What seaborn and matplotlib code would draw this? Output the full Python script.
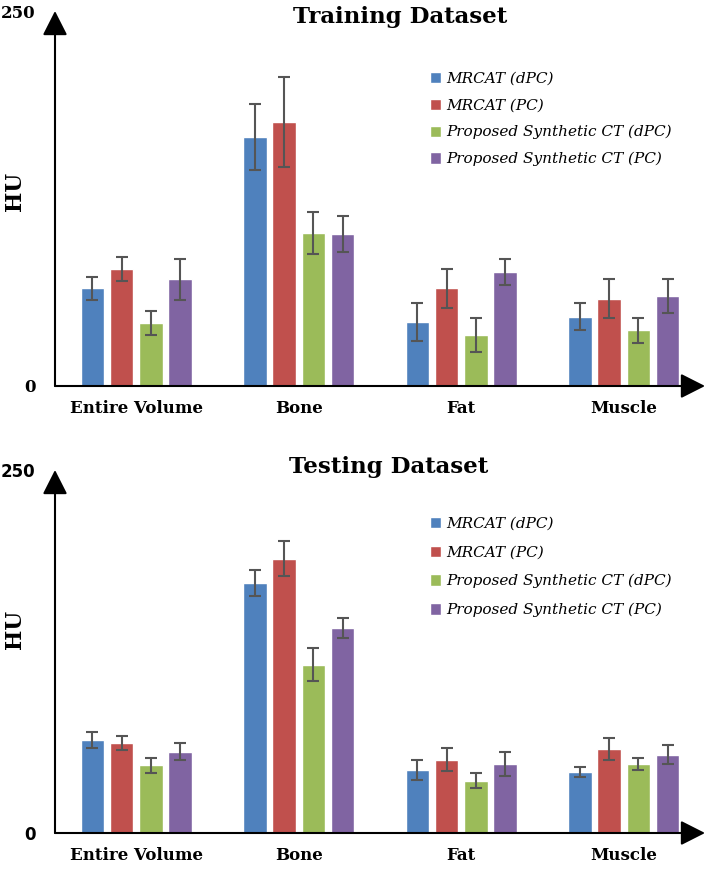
import numpy as np
import pandas as pd
import seaborn as sns
import matplotlib.pyplot as plt
from matplotlib.container import BarContainer

sns.set_style("white")
plt.rcParams['font.family'] = ['DejaVu Serif']
plt.rcParams['text.color'] = 'black'
plt.rcParams['axes.labelcolor'] = 'black'
plt.rcParams['xtick.color'] = 'black'
plt.rcParams['ytick.color'] = 'black'

categories = ["Entire Volume", "Bone", "Fat", "Muscle"]
series = ["MRCAT (dPC)", "MRCAT (PC)", "Proposed Synthetic CT (dPC)", "Proposed Synthetic CT (PC)"]
colors = ["#4F81BD", "#C0504D", "#9BBB59", "#8064A2"]

# training dataset: mean HU and error per series, in category order
train_mean = {
    "MRCAT (dPC)": [65, 166, 42.5, 46],
    "MRCAT (PC)": [78, 176, 65, 58],
    "Proposed Synthetic CT (dPC)": [42, 102, 34, 37],
    "Proposed Synthetic CT (PC)": [71, 101.5, 76, 60],
}
train_err = {
    "MRCAT (dPC)": [7.5, 22, 12.5, 9],
    "MRCAT (PC)": [8, 30, 13, 13],
    "Proposed Synthetic CT (dPC)": [8, 14, 11.5, 8.5],
    "Proposed Synthetic CT (PC)": [13.5, 12, 8.5, 11.5],
}

# testing dataset
test_mean = {
    "MRCAT (dPC)": [64, 172, 43.5, 42],
    "MRCAT (PC)": [62, 189, 50.5, 58],
    "Proposed Synthetic CT (dPC)": [46.5, 116, 36, 47.5],
    "Proposed Synthetic CT (PC)": [56, 141, 47.5, 54],
}
test_err = {
    "MRCAT (dPC)": [5.5, 9, 7, 3.5],
    "MRCAT (PC)": [5, 12, 8, 7.5],
    "Proposed Synthetic CT (dPC)": [5, 11.5, 5, 4],
    "Proposed Synthetic CT (PC)": [6, 7, 8.5, 6.5],
}


def long_table(means):
    rows = []
    for s in series:
        for c, v in zip(categories, means[s]):
            rows.append({"Region": c, "Method": s, "HU": v})
    return pd.DataFrame(rows)


def draw_panel(ax, means, errs, title, title_xy, leg_anchor, leg_space, hu_y, tick_font):
    df = long_table(means)
    sns.barplot(data=df, x="Region", y="HU", hue="Method", order=categories,
                hue_order=series, palette=colors, width=0.72, gap=0.2,
                errorbar=None, saturation=1, ax=ax)
    bars = [c for c in ax.containers if isinstance(c, BarContainer)]
    for i, cont in enumerate(bars):
        xs = [b.get_x() + b.get_width() / 2 for b in cont]
        ys = [b.get_height() for b in cont]
        ax.errorbar(xs, ys, yerr=errs[series[i]], fmt="none", ecolor="#555555",
                    elinewidth=1.5, capsize=4, capthick=1.5)
    ax.set_xlim(-0.5, 3.5)
    ax.set_ylim(0, 250)
    ax.set_yticks([0, 250])
    ax.set_yticklabels(["0", "250"])
    for lab in ax.get_yticklabels():
        lab.set_fontweight("bold")
        lab.set_fontsize(12)
        lab.set_family(tick_font)
    ax.tick_params(axis="both", length=0)
    ax.tick_params(axis="y", pad=14)
    ax.tick_params(axis="x", pad=10)
    for lab in ax.get_xticklabels():
        lab.set_fontweight("bold")
        lab.set_fontsize(12)
    ax.set_xlabel("")
    ax.set_ylabel("HU", fontweight="bold", fontsize=15.5)
    ax.yaxis.set_label_coords(-0.045, hu_y)
    for sp in ax.spines.values():
        sp.set_visible(False)
    arrow = dict(arrowstyle="-|>,head_length=0.75,head_width=0.38", color="black",
                 lw=1.5, mutation_scale=20, shrinkA=0, shrinkB=0)
    ax.annotate("", xy=(1.0, 0), xytext=(0, 0), xycoords="axes fraction",
                textcoords="axes fraction", arrowprops=arrow, annotation_clip=False)
    ax.annotate("", xy=(0, 1.0), xytext=(0, 0), xycoords="axes fraction",
                textcoords="axes fraction", arrowprops=arrow, annotation_clip=False)
    fig.text(title_xy[0], title_xy[1], title, ha="center", va="center",
             fontsize=16.5, fontweight="bold")
    handles, labels = ax.get_legend_handles_labels()
    ax.legend(handles, labels, loc="upper left", bbox_to_anchor=leg_anchor,
              bbox_transform=fig.transFigure, frameon=False, borderpad=0,
              borderaxespad=0, handlelength=0.75, handleheight=0.75,
              handletextpad=0.3, labelspacing=leg_space,
              prop={"style": "italic", "size": 11})


fig = plt.figure(figsize=(7.09, 8.72), dpi=100)
ax1 = fig.add_axes([55 / 709, (872 - 386) / 872, 650 / 709, 375 / 872])
ax2 = fig.add_axes([55 / 709, (872 - 833) / 872, 650 / 709, 363 / 872])

draw_panel(ax1, train_mean, train_err, "Training Dataset", (400 / 709, 1 - 17 / 872),
           (430 / 709, 1 - 72 / 872), 0.82, 0.52, "DejaVu Serif")
draw_panel(ax2, test_mean, test_err, "Testing Dataset", (389 / 709, 1 - 467 / 872),
           (430 / 709, 1 - 517 / 872), 0.95, 0.56, "DejaVu Sans")

fig.savefig("out.png", dpi=100)
